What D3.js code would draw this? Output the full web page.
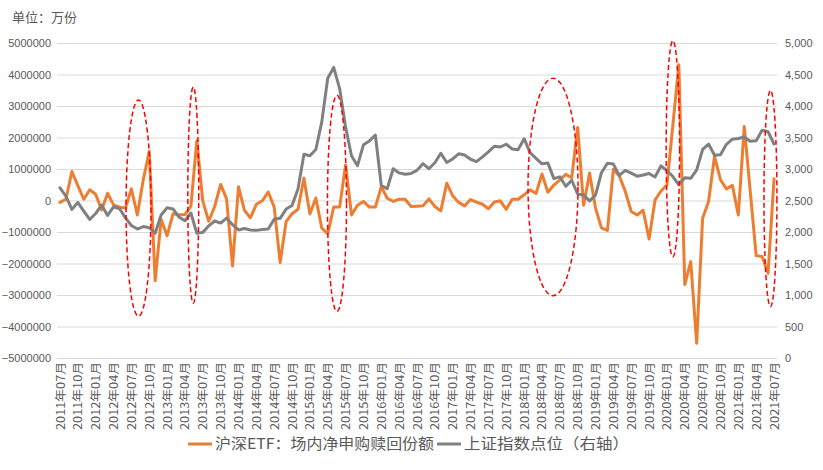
<!DOCTYPE html>
<html><head><meta charset="utf-8">
<script src="https://cdn.jsdelivr.net/npm/d3@7/dist/d3.min.js"></script>
<style>
body{margin:0;background:#fff;}
svg{display:block;}
</style>
</head><body>
<svg id="chart" width="823" height="470"></svg>
<script>
// ---------- data ----------
const months = d3.timeMonth.range(new Date(2011, 6, 1), new Date(2021, 7, 1)).map(d3.timeFormat("%Y年%m月"));

// 沪深ETF：场内净申购赎回份额（万份）
const etfFlow = [
  -60000, 40000, 920000, 470000, 40000, 340000,
  200000, -300000, 230000, -140000, -210000, -240000, 370000, -460000, 660000, 1560000, -2550000, -600000,
  -1120000, -420000, -450000, -450000, -180000, 1900000, -20000, -660000, -190000, 510000, 50000, -2080000,
  440000, -310000, -550000, -120000, -10000, 270000, -210000, -1970000, -670000, -420000, -280000, 710000,
  -430000, 80000, -880000, -1050000, -210000, -210000, 1130000, -460000, -150000, -30000, -210000, -210000,
  440000, 70000, -30000, 40000, 40000, -190000, -180000, -170000, 50000, -190000, -330000, 550000,
  150000, -60000, -170000, 30000, -50000, -120000, -260000, -50000, -10000, -280000, 40000, 40000,
  180000, 340000, 220000, 840000, 260000, 490000, 650000, 830000, 720000, 2320000, -150000, 870000,
  -240000, -870000, -950000, 990000, 780000, 290000, -350000, -460000, -310000, -1220000, 10000, 300000,
  490000, 2390000, 4310000, -2670000, -1940000, -4530000, -560000, -30000, 1400000, 660000, 370000, 480000,
  -460000, 2350000, 300000, -1750000, -1780000, -2310000, 690000
];

// 上证指数点位（右轴）
const sseIndex = [
  2701, 2568, 2359, 2469, 2333, 2199,
  2293, 2429, 2263, 2397, 2373, 2225, 2103, 2047, 2086, 2069, 1980, 2269,
  2385, 2366, 2237, 2178, 2301, 1979, 1994, 2098, 2175, 2142, 2220, 2116,
  2033, 2056, 2033, 2026, 2039, 2048, 2202, 2217, 2364, 2420, 2683, 3235,
  3210, 3310, 3748, 4442, 4612, 4277, 3664, 3206, 3053, 3383, 3446, 3539,
  2738, 2688, 3004, 2938, 2917, 2930, 2979, 3085, 3005, 3100, 3250, 3104,
  3159, 3242, 3223, 3155, 3117, 3192, 3273, 3361, 3349, 3393, 3317, 3307,
  3481, 3259, 3169, 3082, 3095, 2847, 2876, 2725, 2821, 2603, 2588, 2494,
  2585, 2941, 3091, 3078, 2899, 2979, 2933, 2886, 2905, 2929, 2872, 3050,
  2977, 2880, 2750, 2860, 2852, 2985, 3310, 3396, 3218, 3225, 3392, 3473,
  3483, 3509, 3442, 3447, 3615, 3591, 3397
];

const leftTicks = [5000000, 4000000, 3000000, 2000000, 1000000, 0, -1000000, -2000000, -3000000, -4000000, -5000000];
const rightTicks = [0, 500, 1000, 1500, 2000, 2500, 3000, 3500, 4000, 4500, 5000];
const xTickStep = 3;

const seriesNames = ["沪深ETF：场内净申购赎回份额", "上证指数点位（右轴）"];
const unitLabel = "单位：万份";

// highlighted periods: centre month index, centre value (left axis), half-width (months), half-height (left axis units)
const hlCenterIdx = [13.2, 22.4, 46.55, 82.86, 103.0, 119.4];
const hlCenterVal = [-240000, 170000, -90000, 430000, 1640000, 60000];
const hlHalfW = [2.1, 0.92, 1.6, 4.2, 1.13, 1.09];
const hlHalfH = [3430000, 3430000, 3430000, 3450000, 3430000, 3430000];

// ---------- chart ----------
const svg = d3.select("#chart");
const W = 823, H = 470;
const plot = {left: 57, right: 777, top: 43, bottom: 358};
const textColor = "#595959";
const font = "'Liberation Sans', Arial, sans-serif";
const cjkFont = "'Noto Sans CJK SC', 'Liberation Sans', sans-serif";

const x = d3.scalePoint().domain(months).range([plot.left, plot.right]).padding(0.5);
const xi = d3.scaleLinear().domain([0, months.length - 1]).range([x(months[0]), x(months[months.length - 1])]);
const yL = d3.scaleLinear().domain([-5000000, 5000000]).range([plot.bottom, plot.top]);
const yR = d3.scaleLinear().domain([0, 5000]).range([plot.bottom, plot.top]);

svg.append("rect").attr("width", W).attr("height", H).attr("fill", "#fff");

// gridlines
svg.append("g").selectAll("line").data(leftTicks).join("line")
  .attr("x1", plot.left).attr("x2", plot.right)
  .attr("y1", d => yL(d) + 0.5).attr("y2", d => yL(d) + 0.5)
  .attr("stroke", "#D9D9D9").attr("stroke-width", 1);

// left axis labels
const axL = d3.axisLeft(yL).tickValues(leftTicks).tickFormat(d3.format("d")).tickSize(0).tickPadding(6);
const gL = svg.append("g").attr("transform", `translate(${plot.left},0)`).call(axL);
gL.select(".domain").remove();
gL.selectAll("text").attr("font-family", font).attr("font-size", 11).attr("fill", textColor);

// right axis labels
const axR = d3.axisRight(yR).tickValues(rightTicks).tickFormat(d3.format(",")).tickSize(0).tickPadding(8);
const gR = svg.append("g").attr("transform", `translate(${plot.right},0)`).call(axR);
gR.select(".domain").remove();
gR.selectAll("text").attr("font-family", font).attr("font-size", 11).attr("fill", textColor);

// x axis labels
const axX = d3.axisBottom(x).tickValues(months.filter((d, i) => i % xTickStep === 0)).tickSize(0);
const gX = svg.append("g").attr("transform", `translate(0,${plot.bottom})`).call(axX);
gX.select(".domain").remove();
gX.selectAll("text")
  .attr("font-family", cjkFont).attr("font-size", 11.5).attr("fill", textColor)
  .attr("text-anchor", "end").attr("dy", "0.35em")
  .attr("textLength", 68).attr("lengthAdjust", "spacingAndGlyphs")
  .attr("transform", "translate(0,4) rotate(-90)").attr("x", 0).attr("y", 0);

// lines
const lineL = d3.line().x((d, i) => x(months[i])).y(d => yL(d));
const lineR = d3.line().x((d, i) => x(months[i])).y(d => yR(d));
svg.append("path").datum(etfFlow).attr("d", lineL).attr("fill", "none")
  .attr("stroke", "#ED7D31").attr("stroke-width", 3).attr("stroke-linejoin", "round").attr("stroke-linecap", "round");
svg.append("path").datum(sseIndex).attr("d", lineR).attr("fill", "none")
  .attr("stroke", "#808080").attr("stroke-width", 3).attr("stroke-linejoin", "round").attr("stroke-linecap", "round");

// highlight ellipses
svg.append("g").selectAll("ellipse").data(hlCenterIdx).join("ellipse")
  .attr("cx", (d, i) => xi(d))
  .attr("cy", (d, i) => yL(hlCenterVal[i]))
  .attr("rx", (d, i) => xi(d + hlHalfW[i]) - xi(d))
  .attr("ry", (d, i) => yL(hlCenterVal[i] - hlHalfH[i]) - yL(hlCenterVal[i]))
  .attr("fill", "none").attr("stroke", "#FF0000").attr("stroke-width", 1.5)
  .attr("stroke-dasharray", "5,3");

// unit label
svg.append("text").attr("x", 12).attr("y", 22).text(unitLabel)
  .attr("font-family", cjkFont).attr("font-size", 13).attr("fill", textColor);

// legend
const legY = 444;
const legColors = ["#ED7D31", "#808080"];
const legX = [188, 437];
const legTextLen = [219, 165];
const leg = svg.append("g");
seriesNames.forEach((name, i) => {
  leg.append("line").attr("x1", legX[i]).attr("x2", legX[i] + 24).attr("y1", legY).attr("y2", legY)
    .attr("stroke", legColors[i]).attr("stroke-width", 3);
  leg.append("text").attr("x", legX[i] + 27).attr("y", legY).attr("dy", "0.35em").text(name)
    .attr("textLength", legTextLen[i]).attr("lengthAdjust", "spacingAndGlyphs")
    .attr("font-family", cjkFont).attr("font-size", 15).attr("fill", textColor);
});
</script>
</body></html>
